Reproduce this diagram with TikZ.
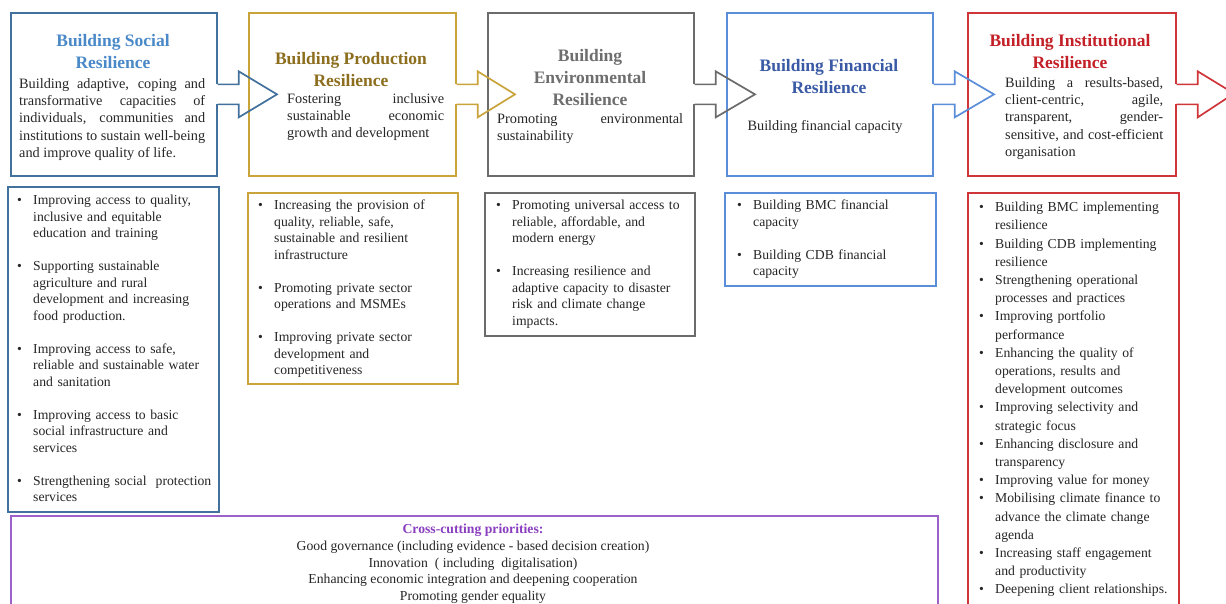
\documentclass[tikz,border=0pt]{standalone}
\usepackage{fontspec}
\setmainfont{Liberation Serif}
\usetikzlibrary{calc,shadows}

\definecolor{socline}{HTML}{41719C}
\definecolor{soctitle}{HTML}{4A89C8}
\definecolor{prodline}{HTML}{C9A43B}
\definecolor{prodtitle}{HTML}{8C6E1E}
\definecolor{envline}{HTML}{6B6B6B}
\definecolor{envtitle}{HTML}{6E6E6E}
\definecolor{finline}{HTML}{5B8ED8}
\definecolor{fintitle}{HTML}{3A5AA6}
\definecolor{instline}{HTML}{D0353A}
\definecolor{insttitle}{HTML}{C42027}
\definecolor{purpline}{HTML}{9D62C9}
\definecolor{purptitle}{HTML}{8A3FC0}
\definecolor{bodytext}{HTML}{262626}

\newcommand{\ttlfont}{\bfseries\fontsize{17.5}{22}\selectfont}
\newcommand{\dscfont}{\fontsize{14.3}{17.3}\selectfont}
\newcommand{\lstfont}{\fontsize{13.7}{16.5}\selectfont}
\newcommand{\lstfontb}{\fontsize{13.7}{18.2}\selectfont}
\newcommand{\botfont}{\fontsize{13.7}{16.7}\selectfont}

% bullet item with hanging indent
\newlength{\bind}\setlength{\bind}{17pt}
\newcommand{\bitem}[1]{\noindent\hangindent=\bind\hangafter=1\makebox[\bind][l]{\kern1pt•}#1\par}
\newcommand{\igap}{\vskip16.5pt}

% block arrow leaving box #1 through its east side, tip at #2
\newcommand{\linkarrow}[3]{%
  \fill[white] ($(#1.east)+(-1.3,-10)$) rectangle ($(#1.east)+(3,10)$);
  \draw[#3, line width=1.7pt, line join=miter]
    ($(#1.east)+(0,-10)$) -- ($(#1.east)+(21,-10)$) -- ($(#1.east)+(21,-23)$)
    -- (#2) -- ($(#1.east)+(21,23)$) -- ($(#1.east)+(21,10)$) -- ($(#1.east)+(0,10)$);
}

\begin{document}
\begin{tikzpicture}[x=1pt,y=-1pt,
  boxframe/.style={draw=#1, line width=1.7pt, fill=white, inner sep=0pt, anchor=north west,
    drop shadow={opacity=0.16, shadow xshift=1.6pt, shadow yshift=-1.6pt}},
  ttl/.style={text=#1, font=\ttlfont, align=center, inner sep=0pt, anchor=north},
  dsc/.style={font=\dscfont, align=justify, inner sep=0pt, anchor=north west, text=bodytext},
  lst/.style={font=\lstfont, align=left, inner sep=0pt, anchor=north west, text=bodytext},
]
\useasboundingbox (0,0) rectangle (1226,603);
\fill[white] (0,0) rectangle (1226,603);
\clip (0,0) rectangle (1226,603);

% ---- pillar boxes
\node[boxframe=socline,  minimum width=206pt, minimum height=163pt] (soc)  at (10,12) {};
\node[boxframe=prodline, minimum width=207pt, minimum height=163pt] (prod) at (248,12) {};
\node[boxframe=envline,  minimum width=206pt, minimum height=163pt] (env)  at (487,12) {};
\node[boxframe=finline,  minimum width=206pt, minimum height=163pt] (fin)  at (726,12) {};
\node[boxframe=instline, minimum width=208pt, minimum height=163pt] (inst) at (967,12) {};

% ---- priority lists
\node[boxframe=socline,  minimum width=211pt, minimum height=325pt] (socL)  at (7,186) {};
\node[boxframe=prodline, minimum width=210pt, minimum height=191pt] (prodL) at (247,192) {};
\node[boxframe=envline,  minimum width=210pt, minimum height=143pt] (envL)  at (484,192) {};
\node[boxframe=finline,  minimum width=211pt, minimum height=93pt]  (finL)  at (724,192) {};
\node[boxframe=instline, minimum width=211pt, minimum height=440pt] (instL) at (967,192) {};

% ---- cross-cutting box
\node[boxframe=purpline, minimum width=927pt, minimum height=110pt] (cross) at (10,515) {};

% ---- arrows between pillars
\coordinate (outtip) at (1234,93.5);
\linkarrow{soc}{$(prod.west)+(29,0)$}{socline}
\linkarrow{prod}{$(env.west)+(28,0)$}{prodline}
\linkarrow{env}{$(fin.west)+(29,0)$}{envline}
\linkarrow{fin}{$(inst.west)+(27,0)$}{finline}
\linkarrow{inst}{outtip}{instline}

% ---- titles
\node[ttl=soctitle]  (socT)  at (113,34)  {Building Social\\Resilience};
\node[ttl=prodtitle] (prodT) at (351,52)  {Building Production\\Resilience};
\node[ttl=envtitle]  (envT)  at (590,49)  {Building\\Environmental\\Resilience};
\node[ttl=fintitle]  (finT)  at (829,59)  {Building Financial\\Resilience};
\node[ttl=insttitle] (instT) at (1070,34) {Building Institutional\\Resilience};

% ---- descriptions
\node[dsc, text width=186pt] (socD) at (19,78)
  {Building adaptive, coping and\linebreak transformative capacities of\linebreak individuals, communities and\linebreak institutions to sustain well-being\linebreak and improve quality of life.};
\node[dsc, text width=157pt] (prodD) at (287,93)
  {Fostering inclusive\linebreak sustainable economic\linebreak growth and development};
\node[dsc, text width=186pt] (envD) at (497,113)
  {Promoting environmental\linebreak sustainability};
\node[font=\dscfont, inner sep=0pt, anchor=north, text=bodytext] (finD) at (825,120)
  {Building financial capacity};
\node[dsc, text width=158pt] (instD) at (1005,77)
  {Building a results-based,\linebreak client-centric, agile,\linebreak transparent, gender-\linebreak sensitive, and cost-efficient\linebreak organisation};

% ---- bullet lists
\node[lst, text width=200pt] (socB) at (16,195) {%
  \bitem{Improving access to quality,\newline inclusive and equitable\newline education and training}\igap
  \bitem{Supporting sustainable\newline agriculture and rural\newline development and increasing\newline food production.}\igap
  \bitem{Improving access to safe,\newline reliable and sustainable water\newline and sanitation}\igap
  \bitem{Improving access to basic\newline social infrastructure and\newline services}\igap
  \bitem{Strengthening social~ protection\newline services}};
\node[lst, text width=196pt] (prodB) at (257,200) {%
  \bitem{Increasing the provision of\newline quality, reliable, safe,\newline sustainable and resilient\newline infrastructure}\igap
  \bitem{Promoting private sector\newline operations and MSMEs}\igap
  \bitem{Improving private sector\newline development and\newline competitiveness}};
\node[lst, text width=195pt] (envB) at (495,200) {%
  \bitem{Promoting universal access to\newline reliable, affordable, and\newline modern energy}\igap
  \bitem{Increasing resilience and\newline adaptive capacity to disaster\newline risk and climate change\newline impacts.}};
\node[lst, text width=195pt] (finB) at (736,200) {%
  \bitem{Building BMC financial\newline capacity}\igap
  \bitem{Building CDB financial\newline capacity}};
\node[lst, font=\lstfontb, text width=196pt] (instB) at (978,202) {%
  \bitem{Building BMC implementing\newline resilience}
  \bitem{Building CDB implementing\newline resilience}
  \bitem{Strengthening operational\newline processes and practices}
  \bitem{Improving portfolio\newline performance}
  \bitem{Enhancing the quality of\newline operations, results and\newline development outcomes}
  \bitem{Improving selectivity and\newline strategic focus}
  \bitem{Enhancing disclosure and\newline transparency}
  \bitem{Improving value for money}
  \bitem{Mobilising climate finance to\newline advance the climate change\newline agenda}
  \bitem{Increasing staff engagement\newline and productivity}
  \bitem{Deepening client relationships.}};

% ---- cross-cutting priorities
\node[font=\botfont, align=center, inner sep=0pt, anchor=north, text=bodytext] (crossT) at (473,524)
  {{\bfseries\color{purptitle}Cross-cutting priorities:}\\
   Good governance (including evidence - based decision creation)\\
   Innovation~ ( including~ digitalisation)\\
   Enhancing economic integration and deepening cooperation\\
   Promoting gender equality};
\end{tikzpicture}
\end{document}
